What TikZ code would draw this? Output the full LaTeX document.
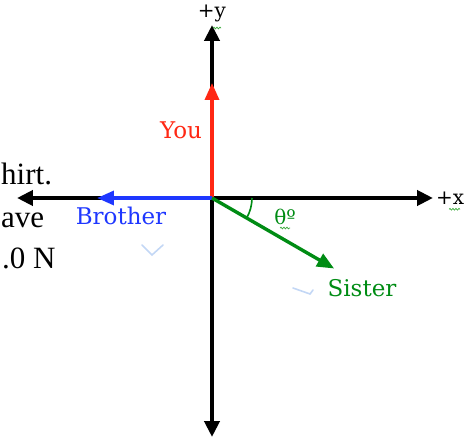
\documentclass[tikz,border=0pt]{standalone}
\usepackage{fontspec}
\setmainfont{DejaVu Serif}
\newfontfamily\timesfont{Liberation Serif}
\usetikzlibrary{arrows.meta}
\usetikzlibrary{decorations.pathmorphing}

\begin{document}
\begin{tikzpicture}
    [x=1pt,y=1pt,
    % Styles
    axes/.style={line width=4pt, -{Triangle[length=16pt,width=15pt]}},
    force line/.style={line width=3.4pt, -{Triangle[length=17pt,width=14pt]}},
    force label/.style={font=\fontsize{23}{27}\selectfont, inner sep=0pt},
    axis label/.style={font=\fontsize{20}{24}\selectfont, inner sep=0pt},
    page text/.style={font=\timesfont\fontsize{31}{41}\selectfont, inner sep=0pt, anchor=base west},
    spell mark/.style={draw=spellcolor, line width=0.7pt, decorate,
        decoration={snake, amplitude=0.9pt, segment length=3pt}},
    check mark/.style={draw=checkcolor, line width=1.6pt, line cap=round}]

    % Colors
    \definecolor{youcolor}{RGB}{255,40,20}
    \definecolor{brothercolor}{RGB}{30,55,255}
    \definecolor{sistercolor}{RGB}{0,140,20}
    \definecolor{spellcolor}{RGB}{60,170,60}
    \definecolor{checkcolor}{RGB}{195,215,245}

    % Coordinates
    \clip (-212,-241) rectangle (264,198);
    \coordinate (O) at (0,0);
    \coordinate (left end) at (-195,0);
    \coordinate (right end) at (221,0);
    \coordinate (top end) at (0,173);
    \coordinate (bottom end) at (0,-239);
    \coordinate (you) at (0,115);
    \coordinate (brother) at (-115,0);
    \coordinate (sister) at (-30:141);

    % Text of the page behind the drawing
    \node[page text] (line one) at (-211,13) {hirt.};
    \node[page text] (line two) at (-211,-29) {ave};
    \node[page text] (line three) at (-210,-70) {.0 N};

    % Axes
    \draw[axes] (O) -- (right end) node[axis label, right=1pt] (x label) {+x};
    \draw[axes] (O) -- (left end);
    \draw[axes] (O) -- (top end) node[axis label, above=1pt] (y label) {+y};
    \draw[axes] (O) -- (bottom end);

    % Forces
    \draw[force line, youcolor] (O) -- (you);
    \draw[force line, brothercolor] (O) -- (brother);
    \draw[force line, sistercolor] (O) -- (sister);

    \node[force label, text=youcolor] (you label) at (-31,68) {You};
    \node[force label, text=brothercolor] (brother label) at (-91,-18) {Brother};
    \node[force label, text=sistercolor] (sister label) at (150,-90) {Sister};

    % Angle
    \draw[sistercolor, line width=1.6pt] (0:40) arc [start angle=0, end angle=-30, radius=40];
    \node[axis label, text=sistercolor] (theta label) at (73,-19) {θº};

    % Marks
    \draw[spell mark] ([xshift=-5pt,yshift=-3pt]theta label.south) -- ([xshift=5pt,yshift=-3pt]theta label.south);
    \draw[spell mark] ([xshift=-1pt,yshift=-3pt]x label.south) -- ([xshift=10pt,yshift=-3pt]x label.south);
    \draw[spell mark] ([xshift=1pt,yshift=-4pt]y label.south) -- ([xshift=9pt,yshift=-4pt]y label.south);
    \draw[check mark] (-70,-47) -- (-60,-57) -- (-49,-47);
    \draw[check mark] (81,-90) -- (98,-96) -- (101,-92);

\end{tikzpicture}
\end{document}
